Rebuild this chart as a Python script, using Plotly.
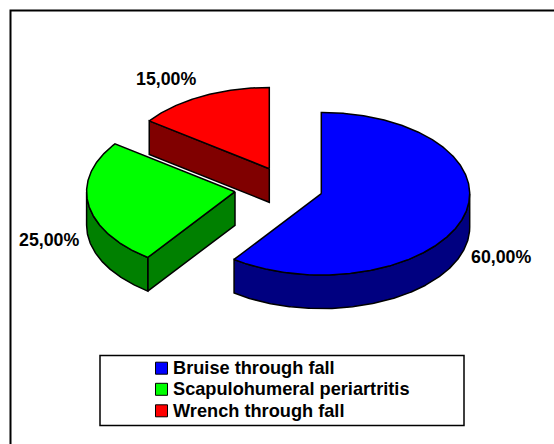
import numpy as np
import plotly.graph_objects as go

# Data
categories = ["Bruise through fall", "Scapulohumeral periartritis", "Wrench through fall"]
values = [60, 25, 15]

# Styles
top_colors = ["#0000FF", "#00FF00", "#FF0000"]
side_colors = ["#000080", "#008000", "#800000"]

# Pie geometry (pixels of the 554x444 canvas)
W, H = 554, 444
RX, RY, DEPTH = 148.4, 81.3, 33.6
slice_centers = [(321.3, 193.7), (235.0, 191.7), (269.3, 168.7)]
label_positions = [(501, 257), (48.5, 240), (166, 79)]
draw_order = [2, 1, 0]
EDGE = dict(color="black", width=1.5)
FONT = "Liberation Sans, Arial, sans-serif"
LABEL_SIZE = 17.8
LEGEND_SIZE = 18.2


def rim(cx, cy, a0, a1, dy=0.0):
    a = np.radians(np.linspace(a0, a1, max(int(abs(a1 - a0)) * 2, 2)))
    return cx + RX * np.sin(a), cy - RY * np.cos(a) + dy


def poly(xs, ys, color):
    return go.Scatter(x=xs, y=ys, mode="lines", fill="toself", fillcolor=color,
                      line=EDGE, hoverinfo="skip", showlegend=False)


total = sum(values)
edges = np.concatenate([[0], np.cumsum(values) / total * 360])
fig = go.Figure()

for i in draw_order:
    a0, a1 = edges[i], edges[i + 1]
    cx, cy = slice_centers[i]
    # radial walls that face the viewer
    for ang, normal in ((a0, a0 - 90), (a1, a1 + 90)):
        if np.cos(np.radians(normal)) < -1e-6:
            rx_, ry_ = rim(cx, cy, ang, ang)
            px, py = rx_[0], ry_[0]
            fig.add_trace(poly([cx, px, px, cx, cx], [cy, py, py + DEPTH, cy + DEPTH, cy], side_colors[i]))
    # curved outer wall (front half of the ellipse)
    s0, s1 = max(a0, 90), min(a1, 270)
    if s1 > s0:
        x1, y1 = rim(cx, cy, s0, s1)
        x2, y2 = rim(cx, cy, s1, s0, DEPTH)
        fig.add_trace(poly(np.r_[x1, x2, x1[0]], np.r_[y1, y2, y1[0]], side_colors[i]))
    # top face
    xt, yt = rim(cx, cy, a0, a1)
    fig.add_trace(poly(np.r_[cx, xt, cx], np.r_[cy, yt, cy], top_colors[i]))

shapes = [
    # chart frame, cropped on the right and at the bottom
    dict(type="rect", xref="x", yref="y", x0=10.5, y0=10.5, x1=W + 10, y1=H + 10,
         line=dict(color="black", width=2), layer="below"),
    # legend box
    dict(type="rect", xref="x", yref="y", x0=100, y0=355.5, x1=464, y1=425.5,
         line=dict(color="black", width=1.5), fillcolor="white", layer="below"),
]
annotations = []
row_y = [368.2, 389.3, 410.8]
for i, name in enumerate(categories):
    shapes.append(dict(type="rect", xref="x", yref="y", x0=155.5, x1=167.5,
                       y0=row_y[i] - 6, y1=row_y[i] + 6,
                       line=dict(color="black", width=1), fillcolor=top_colors[i]))
    annotations.append(dict(x=170.5, y=row_y[i], text=f"<b>{name}</b>", xanchor="left", yanchor="middle",
                            showarrow=False, xref="x", yref="y",
                            font=dict(family=FONT, size=LEGEND_SIZE, color="black")))
    lx, ly = label_positions[i]
    label = f"{values[i] / total * 100:.2f}%".replace(".", ",")
    annotations.append(dict(x=lx, y=ly, text=f"<b>{label}</b>", xanchor="center", yanchor="middle",
                            showarrow=False, xref="x", yref="y",
                            font=dict(family=FONT, size=LABEL_SIZE, color="black")))

fig.update_layout(
    width=W, height=H, margin=dict(l=0, r=0, t=0, b=0),
    paper_bgcolor="white", plot_bgcolor="white", showlegend=False,
    xaxis=dict(range=[0, W], visible=False, fixedrange=True),
    yaxis=dict(range=[H, 0], visible=False, fixedrange=True),
    shapes=shapes, annotations=annotations,
)
fig.write_html("out.html", config={"displayModeBar": False},
               post_script="document.body.style.margin='0';")
